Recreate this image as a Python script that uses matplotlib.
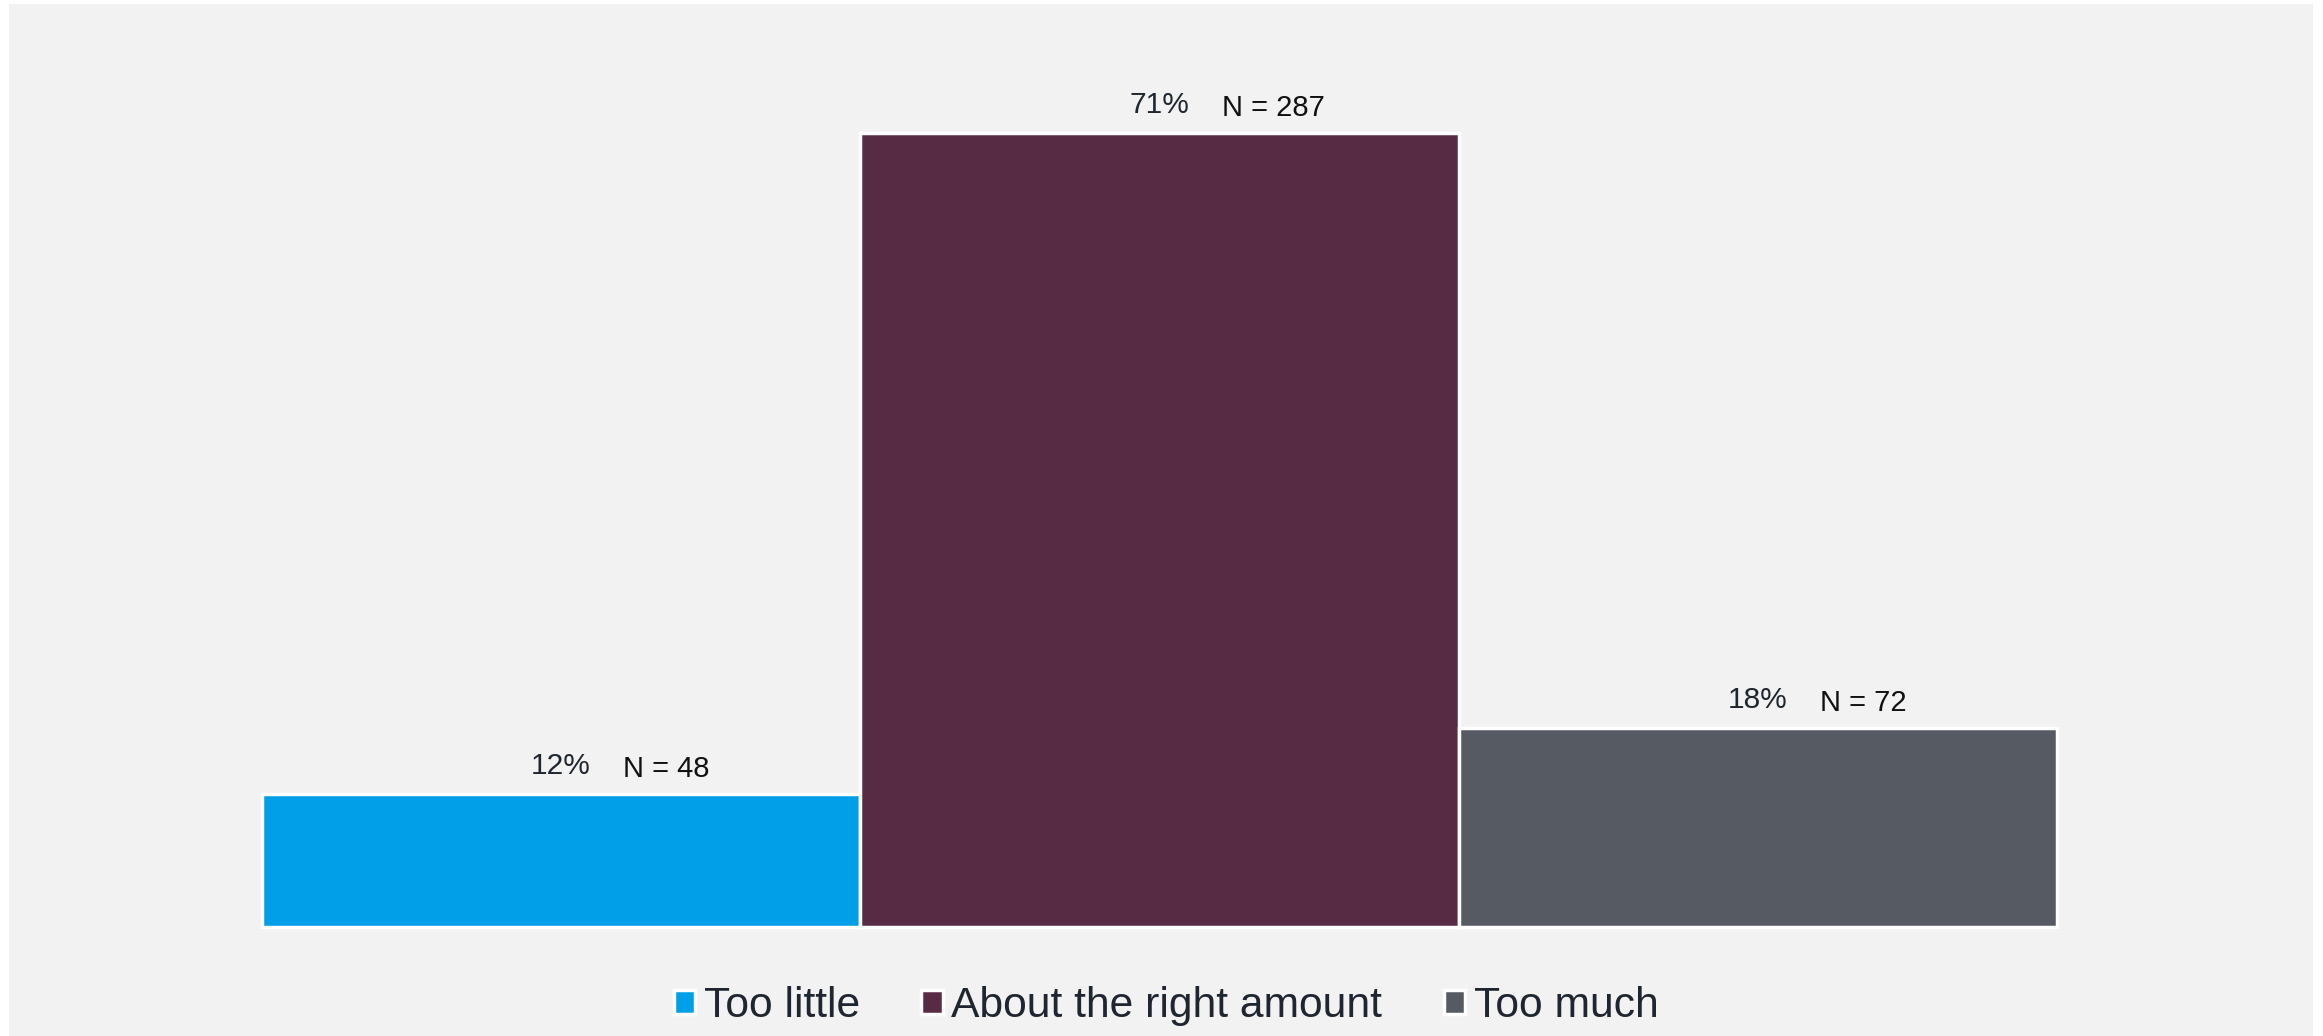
import matplotlib
matplotlib.use("Agg")
import matplotlib.pyplot as plt
from matplotlib.patches import Patch

plt.rcParams['font.family'] = ['Liberation Sans', 'DejaVu Sans']

# data
categories = ["Too little", "About the right amount", "Too much"]
counts = [48, 287, 72]
pct_labels = ["12%", "71%", "18%"]
colors = ["#009fe8", "#582b45", "#565a62"]

TEXT = "#1f2630"
PANEL = "#f2f2f2"

fig = plt.figure(figsize=(23.23, 10.36), dpi=100, facecolor="white")
# grey panel covers almost the whole figure
ax = fig.add_axes([9 / 2323, 0, 2304 / 2323, 1032 / 1036])
ax.set_facecolor(PANEL)

x = list(range(len(categories)))
ax.bar(x, counts, width=1.0, color=colors, edgecolor="white", linewidth=2.5)

# percent centred over each bar, N label to the right of it
for xi, c, p in zip(x, counts, pct_labels):
    ax.annotate(p, (xi, c), xytext=(0, 14), textcoords="offset pixels",
                ha="center", va="bottom", fontsize=21.5, color=TEXT)
    ax.annotate(f"N = {c}", (xi, c), xytext=(62, 11), textcoords="offset pixels",
                ha="left", va="bottom", fontsize=21, color="#111111")

ax.set_xlim(-0.9229, 2.9279)
ax.set_ylim(-39.4, 333.6)
ax.set_xticks([])
ax.set_yticks([])
for s in ax.spines.values():
    s.set_visible(False)

handles = [Patch(facecolor=col, edgecolor="white", linewidth=2.5) for col in colors]
fig.legend(handles, categories, loc="center", bbox_to_anchor=(0.502, 0.029),
           ncol=3, frameon=False, fontsize=30.7, labelcolor=TEXT,
           handlelength=0.5, handleheight=0.5, handletextpad=0.2,
           columnspacing=1.45)

fig.savefig("out.png", dpi=100, facecolor="white")
